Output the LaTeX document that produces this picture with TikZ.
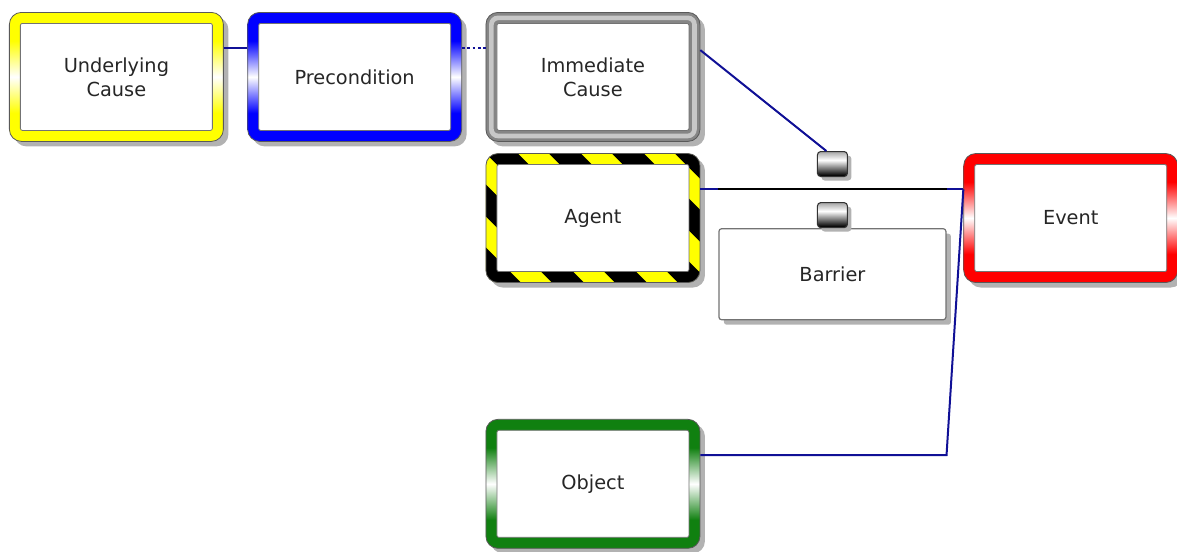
\documentclass[tikz,border=0pt]{standalone}
\usepackage{fontspec}
\setmainfont{DejaVu Sans}
\usetikzlibrary{matrix,shadows}
\usetikzlibrary{calc,positioning}

\definecolor{linkblue}{RGB}{16,16,150}
\definecolor{hazardyellow}{RGB}{255,255,0}
\definecolor{objgreen}{RGB}{16,128,16}
\colorlet{framecol}{yellow}
\pgfdeclareverticalshading[framecol]{frameshade}{100bp}{color(0bp)=(framecol); color(36bp)=(framecol); color(50bp)=(white); color(64bp)=(framecol); color(100bp)=(framecol)}
\pgfdeclareverticalshading{stopshade}{100bp}{color(0bp)=(black); color(27bp)=(black); color(58bp)=(white); color(75bp)=(black!35); color(100bp)=(black!35)}
\newcommand\panelinset{\fill[white,draw=black!55,line width=0.6pt,rounded corners=1.5pt] ($(path picture bounding box.south west)+(8.25pt,8.25pt)$) rectangle ($(path picture bounding box.north east)+(-8.25pt,-8.25pt)$);}

\begin{document}
\begin{tikzpicture}[cardbase/.style={rectangle, rounded corners=9pt, draw=black!65, line width=0.6pt, minimum width=160.5pt, minimum height=96.75pt, align=center, text=black!85, font=\fontsize{14.5}{18}\selectfont, drop shadow={shadow xshift=3.75pt, shadow yshift=-3.75pt, fill=black!30, opacity=1}},
	causebox/.style={cardbase, /utils/exec={\colorlet{framecol}{#1}}, shade, shading=frameshade, path picture={\panelinset}},
	tubebox/.style={cardbase, fill=black!48, path picture={\draw[black!22, line width=3.5pt, rounded corners=5pt] ($(path picture bounding box.south west)+(4.1pt,4.1pt)$) rectangle ($(path picture bounding box.north east)+(-4.1pt,-4.1pt)$); \panelinset}},
	hazardbox/.style={cardbase, fill=hazardyellow, path picture={\foreach \k in {-5,...,5} \draw[black, line width=17pt] ([xshift=\k*47.25pt+27.4pt]path picture bounding box.center) ++(-80pt,80pt) -- ++(160pt,-160pt); \panelinset}},
	barrierbox/.style={rectangle, rounded corners=2pt, draw=black!55, line width=0.9pt, fill=white, minimum width=170.25pt, minimum height=68.25pt, text=black!85, font=\fontsize{14.5}{18}\selectfont, drop shadow={shadow xshift=3.75pt, shadow yshift=-3.75pt, fill=black!30, opacity=1}},
	stopper/.style={rectangle, rounded corners=2.5pt, draw=black!80, line width=0.8pt, shade, shading=stopshade, minimum width=22.5pt, minimum height=18.75pt, inner sep=0pt, drop shadow={shadow xshift=3pt, shadow yshift=-3pt, fill=black!30, opacity=1}},
	link/.style={draw=linkblue, line width=1.5pt},
	barline/.style={draw=black, line width=1.5pt}]
		\matrix (grid) [row sep=8.5pt, column sep=17.6pt] {
			\node[causebox=yellow](under){Underlying\\Cause}; & \node[causebox=blue](precond){Precondition}; & \node[tubebox](immed){Immediate\\Cause}; \\
			& & \node[hazardbox](agent){Agent}; \\[93.5pt]
			& & \node[causebox=objgreen](object){Object}; \\
		};
		\node[causebox=red, right=197.25pt of agent](event){Event};
		\node[barrierbox, below right=56.25pt and 13.5pt of agent.north east](barrier){Barrier};
		\node[stopper, above=0pt of barrier](stopB){};
		\node[stopper, above=18.75pt of stopB](stopA){};

		\draw[link] (under.15) -- (precond.165);
		\draw[link, dash pattern=on 2pt off 2pt] (precond.15) -- (immed.165);
		\draw[link] (immed.14) -- (stopA.115);
		\draw[link] (agent.15) -- (event.165);
		\draw[barline] (barrier.west |- agent.15) -- (barrier.east |- agent.15);
		\draw[link] (object.15) -- (object.15 -| barrier.east) -- (event.165);

		\pgfresetboundingbox
		\path[use as bounding box] ($(under.north west)+(-6.75pt,9pt)$) rectangle ++(882.75pt,-413.25pt);
	\end{tikzpicture}
\end{document}
